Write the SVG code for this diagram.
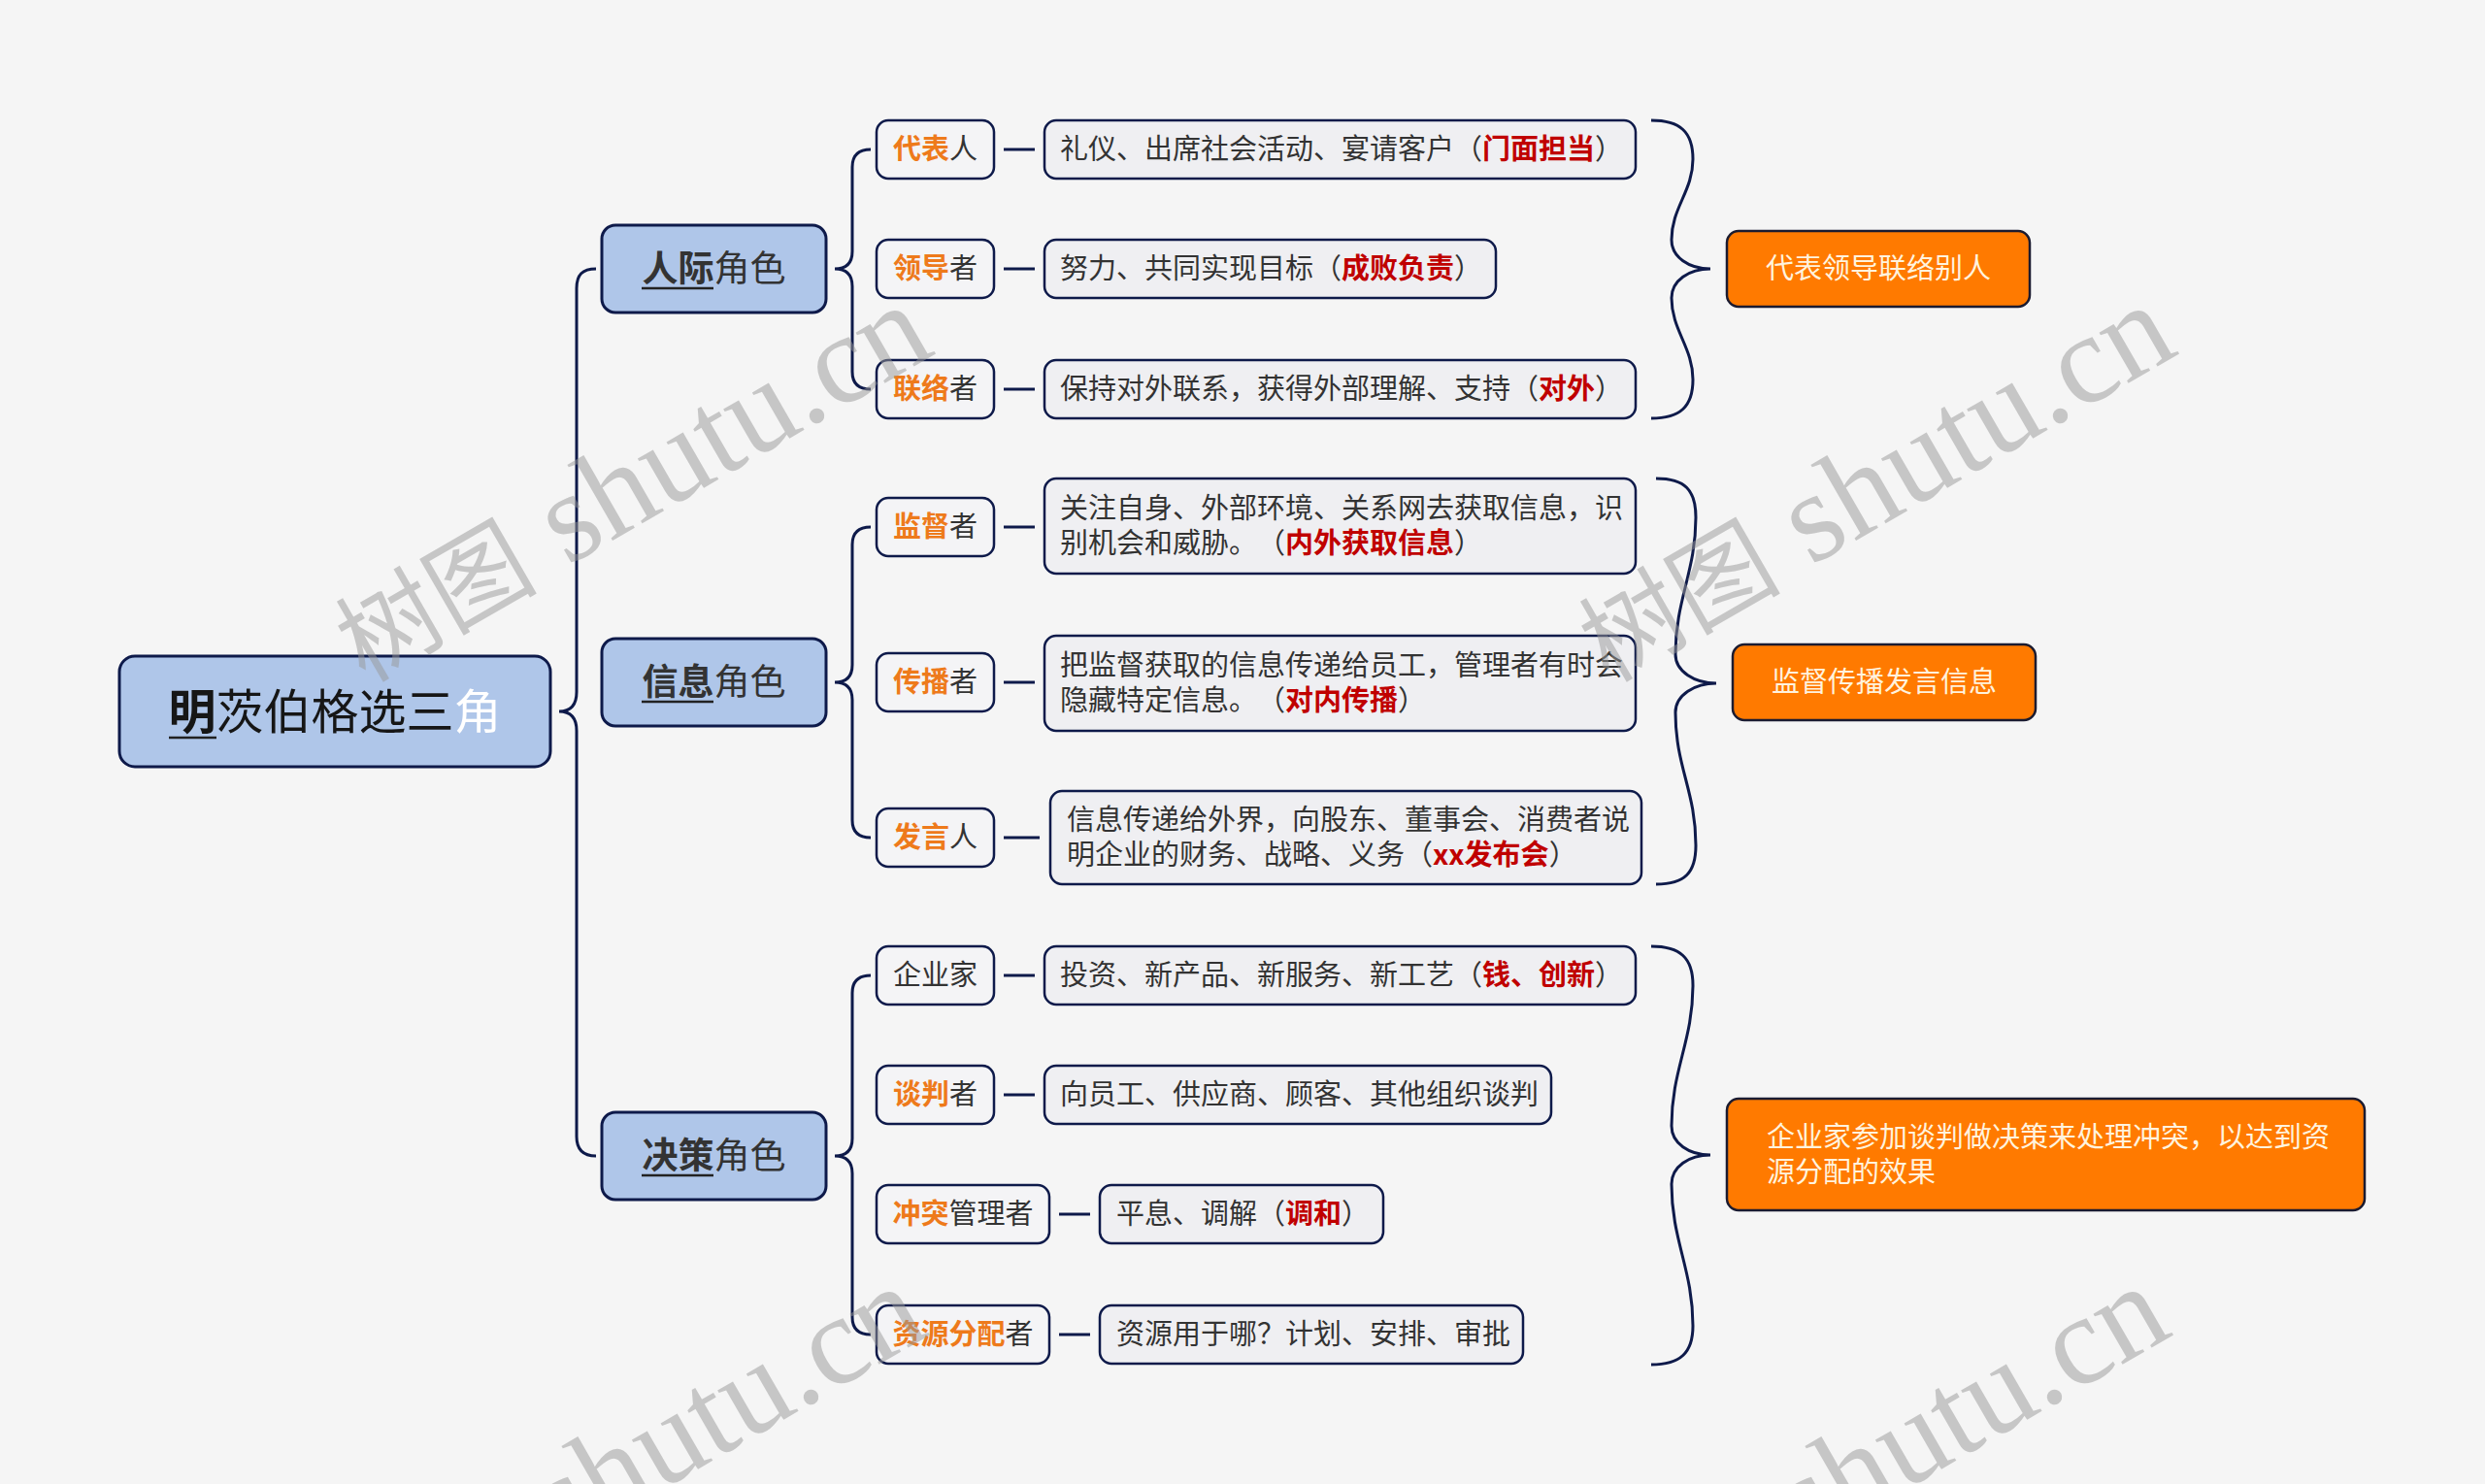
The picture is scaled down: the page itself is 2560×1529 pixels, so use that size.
<svg xmlns="http://www.w3.org/2000/svg" width="2560" height="1529" viewBox="0 0 2560 1529">
<style>
.t{font-family:"Noto Sans CJK SC","Noto Sans",sans-serif;fill:#333333;font-size:29px;text-spacing-trim:space-all}
.n1{fill:#AFC6E9;stroke:#0E1A4A;stroke-width:3}
.n2{fill:#F4F4F6;stroke:#0E1A4A;stroke-width:2.5}
.n3{fill:#EFEFF2;stroke:#0E1A4A;stroke-width:2.5}
.n4{fill:#FF7A00;stroke:#1B1B30;stroke-width:2.5}
.o{fill:#EE7A1B;font-weight:bold}
.r{fill:#C00000;font-weight:bold}
.w{fill:#FFF3DE}
.b{font-weight:bold}
.ln{stroke:#0E1A4A;stroke-width:3;fill:none}
.ul{stroke:#222;stroke-width:2.5}
.wm{font-family:"Liberation Serif","Noto Sans CJK SC",serif;font-size:131px;fill:#999999;opacity:0.5}
.wc{font-family:"Noto Sans CJK SC",serif;font-size:104px}
</style>
<rect x="0" y="0" width="2560" height="1529" fill="#F5F5F5"/>

<g id="connectors">
  <path class="ln" d="M614,277 C600,277 594,283 594,297 L594,713 C594,726 588,733 576,733 C588,733 594,740 594,753 L594,1171 C594,1184 600,1191 614,1191"/>
  <path class="ln" d="M897,154 C884,154 878,160 878,172 L878,259 C878,271 872,277 860,277 C872,277 878,283 878,295 L878,383 C878,395 884,401 897,401"/>
  <path class="ln" d="M897,543 C884,543 878,549 878,561 L878,685 C878,697 872,703 860,703 C872,703 878,709 878,721 L878,845 C878,857 884,863 897,863"/>
  <path class="ln" d="M897,1005 C884,1005 878,1011 878,1023 L878,1173 C878,1185 872,1191 860,1191 C872,1191 878,1197 878,1209 L878,1357 C878,1369 884,1375 897,1375"/>
  <g class="ln">
    <line x1="1034" y1="154" x2="1066" y2="154"/>
    <line x1="1034" y1="277" x2="1066" y2="277"/>
    <line x1="1034" y1="401" x2="1066" y2="401"/>
    <line x1="1034" y1="543" x2="1066" y2="543"/>
    <line x1="1034" y1="703" x2="1066" y2="703"/>
    <line x1="1034" y1="863" x2="1071" y2="863"/>
    <line x1="1034" y1="1005" x2="1066" y2="1005"/>
    <line x1="1034" y1="1128" x2="1066" y2="1128"/>
    <line x1="1091" y1="1251" x2="1123" y2="1251"/>
    <line x1="1091" y1="1375" x2="1123" y2="1375"/>
  </g>
  <path class="ln" d="M1701,124 C1731,124 1744,136 1744,164 C1744,197 1722,214 1722,247 C1722,265 1740,277 1762,277 C1740,277 1722,289 1722,307 C1722,340 1744,358 1744,391 C1744,419 1731,431 1701,431"/>
  <path class="ln" d="M1706,493 C1736,493 1747,505 1747,533 C1747,589 1726,618 1726,674 C1726,692 1746,704 1768,704 C1746,704 1726,716 1726,734 C1726,790 1747,815 1747,871 C1747,899 1736,911 1706,911"/>
  <path class="ln" d="M1701,975 C1731,975 1744,987 1744,1015 C1744,1073 1722,1102 1722,1160 C1722,1178 1740,1190 1762,1190 C1740,1190 1722,1202 1722,1220 C1722,1278 1744,1308 1744,1366 C1744,1394 1731,1406 1701,1406"/>
</g>

<g id="root">
  <rect class="n1" x="123" y="676" width="444" height="114" rx="16"/>
  <text class="t" x="345" y="751" text-anchor="middle" style="font-size:49px;fill:#161616"><tspan class="b">明</tspan>茨伯格选三<tspan style="fill:#FFFFFF">角</tspan></text>
  <line class="ul" x1="174" y1="760" x2="223" y2="760"/>
</g>

<g id="l1-renji">
  <rect class="n1" x="620" y="232" width="231" height="90" rx="14"/>
  <text class="t" x="735.5" y="290" text-anchor="middle" style="font-size:37px"><tspan class="b">人际</tspan>角色</text>
  <line class="ul" x1="661" y1="297" x2="735" y2="297"/>
</g>
<g id="l1-xinxi">
  <rect class="n1" x="620" y="658" width="231" height="90" rx="14"/>
  <text class="t" x="735.5" y="716" text-anchor="middle" style="font-size:37px"><tspan class="b">信息</tspan>角色</text>
  <line class="ul" x1="661" y1="723" x2="735" y2="723"/>
</g>
<g id="l1-juece">
  <rect class="n1" x="620" y="1146" width="231" height="90" rx="14"/>
  <text class="t" x="735.5" y="1204" text-anchor="middle" style="font-size:37px"><tspan class="b">决策</tspan>角色</text>
  <line class="ul" x1="661" y1="1211" x2="735" y2="1211"/>
</g>

<g id="r-daibiaoren">
  <rect class="n2" x="903" y="124" width="121" height="60" rx="12"/>
  <text class="t" x="963.5" y="164" text-anchor="middle"><tspan class="o">代表</tspan>人</text>
</g>
<g id="r-lingdaozhe">
  <rect class="n2" x="903" y="247" width="121" height="60" rx="12"/>
  <text class="t" x="963.5" y="287" text-anchor="middle"><tspan class="o">领导</tspan>者</text>
</g>
<g id="r-lianluozhe">
  <rect class="n2" x="903" y="371" width="121" height="60" rx="12"/>
  <text class="t" x="963.5" y="411" text-anchor="middle"><tspan class="o">联络</tspan>者</text>
</g>
<g id="r-jianduzhe">
  <rect class="n2" x="903" y="513" width="121" height="60" rx="12"/>
  <text class="t" x="963.5" y="553" text-anchor="middle"><tspan class="o">监督</tspan>者</text>
</g>
<g id="r-chuanbozhe">
  <rect class="n2" x="903" y="673" width="121" height="60" rx="12"/>
  <text class="t" x="963.5" y="713" text-anchor="middle"><tspan class="o">传播</tspan>者</text>
</g>
<g id="r-fayanren">
  <rect class="n2" x="903" y="833" width="121" height="60" rx="12"/>
  <text class="t" x="963.5" y="873" text-anchor="middle"><tspan class="o">发言</tspan>人</text>
</g>
<g id="r-qiyejia">
  <rect class="n2" x="903" y="975" width="121" height="60" rx="12"/>
  <text class="t" x="963.5" y="1015" text-anchor="middle">企业家</text>
</g>
<g id="r-tanpanzhe">
  <rect class="n2" x="903" y="1098" width="121" height="60" rx="12"/>
  <text class="t" x="963.5" y="1138" text-anchor="middle"><tspan class="o">谈判</tspan>者</text>
</g>
<g id="r-chongtu">
  <rect class="n2" x="903" y="1221" width="178" height="60" rx="12"/>
  <text class="t" x="992" y="1261" text-anchor="middle"><tspan class="o">冲突</tspan>管理者</text>
</g>
<g id="r-ziyuan">
  <rect class="n2" x="903" y="1345" width="178" height="60" rx="12"/>
  <text class="t" x="992" y="1385" text-anchor="middle"><tspan class="o">资源分配</tspan>者</text>
</g>

<g id="d-daibiaoren">
  <rect class="n3" x="1076" y="124" width="609" height="60" rx="12"/>
  <text class="t" x="1092" y="164">礼仪、出席社会活动、宴请客户（<tspan class="r">门面担当</tspan>）</text>
</g>
<g id="d-lingdaozhe">
  <rect class="n3" x="1076" y="247" width="465" height="60" rx="12"/>
  <text class="t" x="1092" y="287">努力、共同实现目标（<tspan class="r">成败负责</tspan>）</text>
</g>
<g id="d-lianluozhe">
  <rect class="n3" x="1076" y="371" width="609" height="60" rx="12"/>
  <text class="t" x="1092" y="411">保持对外联系，获得外部理解、支持（<tspan class="r">对外</tspan>）</text>
</g>
<g id="d-jianduzhe">
  <rect class="n3" x="1076" y="493" width="609" height="98" rx="12"/>
  <text class="t" x="1092" y="534">关注自身、外部环境、关系网去获取信息，识</text>
  <text class="t" x="1092" y="570">别机会和威胁。（<tspan class="r">内外获取信息</tspan>）</text>
</g>
<g id="d-chuanbozhe">
  <rect class="n3" x="1076" y="655" width="609" height="98" rx="12"/>
  <text class="t" x="1092" y="696">把监督获取的信息传递给员工，管理者有时会</text>
  <text class="t" x="1092" y="732">隐藏特定信息。（<tspan class="r">对内传播</tspan>）</text>
</g>
<g id="d-fayanren">
  <rect class="n3" x="1082" y="815" width="609" height="96" rx="12"/>
  <text class="t" x="1099" y="855">信息传递给外界，向股东、董事会、消费者说</text>
  <text class="t" x="1099" y="891">明企业的财务、战略、义务（<tspan class="r">xx发布会</tspan>）</text>
</g>
<g id="d-qiyejia">
  <rect class="n3" x="1076" y="975" width="609" height="60" rx="12"/>
  <text class="t" x="1092" y="1015">投资、新产品、新服务、新工艺（<tspan class="r">钱、创新</tspan>）</text>
</g>
<g id="d-tanpanzhe">
  <rect class="n3" x="1076" y="1098" width="522" height="60" rx="12"/>
  <text class="t" x="1092" y="1138">向员工、供应商、顾客、其他组织谈判</text>
</g>
<g id="d-chongtu">
  <rect class="n3" x="1133" y="1221" width="292" height="60" rx="12"/>
  <text class="t" x="1150" y="1261">平息、调解（<tspan class="r">调和</tspan>）</text>
</g>
<g id="d-ziyuan">
  <rect class="n3" x="1133" y="1345" width="436" height="60" rx="12"/>
  <text class="t" x="1150" y="1385">资源用于哪？计划、安排、审批</text>
</g>

<g id="s-renji">
  <rect class="n4" x="1779" y="238" width="312" height="78" rx="12"/>
  <text class="t w" x="1935" y="287" text-anchor="middle">代表领导联络别人</text>
</g>
<g id="s-xinxi">
  <rect class="n4" x="1785" y="664" width="312" height="78" rx="12"/>
  <text class="t w" x="1941" y="713" text-anchor="middle">监督传播发言信息</text>
</g>
<g id="s-juece">
  <rect class="n4" x="1779" y="1132" width="657" height="115" rx="12"/>
  <text class="t w" x="1820" y="1182">企业家参加谈判做决策来处理冲突，以达到资</text>
  <text class="t w" x="1820" y="1218">源分配的效果</text>
</g>

<g id="watermarks">
  <text class="wm" x="376" y="704" transform="rotate(-30 376 704)"><tspan class="wc">树图</tspan> shutu.cn</text>
  <text class="wm" x="1657" y="704" transform="rotate(-30 1657 704)"><tspan class="wc">树图</tspan> shutu.cn</text>
  <text class="wm" x="370" y="1715" transform="rotate(-30 370 1715)"><tspan class="wc">树图</tspan> shutu.cn</text>
  <text class="wm" x="1651" y="1715" transform="rotate(-30 1651 1715)"><tspan class="wc">树图</tspan> shutu.cn</text>
</g>
</svg>
